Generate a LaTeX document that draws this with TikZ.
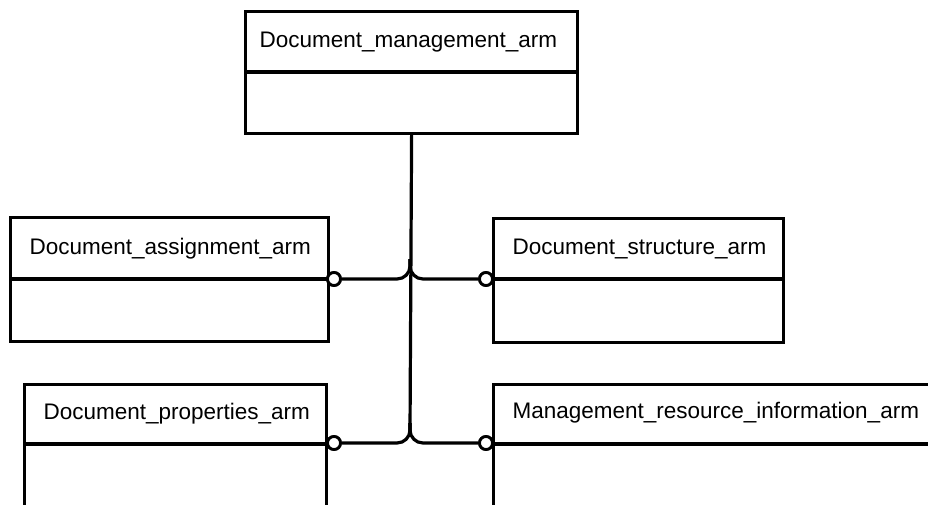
\documentclass[tikz,border=0pt]{standalone}
\usepackage{fontspec}
\setmainfont{Liberation Sans}
\begin{document}
\begin{tikzpicture}[x=1pt,y=-1pt,
  line width=3.2pt,
  box/.style={draw, rectangle, inner sep=0pt, anchor=north west},
  lbl/.style={anchor=base west, inner sep=0pt, font=\fontsize{22.5}{27}\selectfont},
  circ/.style={draw, circle, fill=white, inner sep=0pt, minimum size=13pt, line width=2.8pt},
  conn/.style={rounded corners=13pt}]
\useasboundingbox (0,0) rectangle (928,504);
\clip (0,0) rectangle (928,504);
% boxes
\node[box, minimum width=332pt, minimum height=122pt] (top) at (244,10) {};
\node[box, minimum width=318pt, minimum height=124pt] (assign) at (9,216) {};
\node[box, minimum width=290pt, minimum height=124pt] (struct) at (492,217) {};
\node[box, minimum width=302pt, minimum height=140pt] (props) at (23,383) {};
\node[box, minimum width=460pt, minimum height=140pt] (mgmt) at (492,383) {};
% dividers
\draw (top.west |- 0,72) -- (top.east |- 0,72);
\draw (assign.west |- 0,279) -- (assign.east |- 0,279);
\draw (struct.west |- 0,279) -- (struct.east |- 0,279);
\draw (props.west |- 0,444) -- (props.east |- 0,444);
\draw (mgmt.west |- 0,444) -- (mgmt.east |- 0,444);
% labels
\node[lbl] (ltop) at (258,47) {Document\_management\_arm};
\node[lbl] (lassign) at (28,254) {Document\_assignment\_arm};
\node[lbl] (lstruct) at (511,254) {Document\_structure\_arm};
\node[lbl] (lprops) at (42,419) {Document\_properties\_arm};
\node[lbl] (lmgmt) at (511,418) {Management\_resource\_information\_arm};
% connector ends
\node[circ] (c1) at (334,279) {};
\node[circ] (c2) at (486,279) {};
\node[circ] (c3) at (334,443) {};
\node[circ] (c4) at (486,443) {};
\coordinate (j1) at (410,279);
\coordinate (j2) at (410,443);
% trunk
\draw (top.south) -- ([yshift=12pt]j2);
% branches
\draw[conn] (c1.east) -- (j1) -- ([yshift=20pt]j1);
\draw[conn] ([yshift=20pt]j1) -- (j1) -- (c2.west);
\draw[conn] (c3.east) -- (j2) -- ([yshift=20pt]j2);
\draw[conn] ([yshift=20pt]j2) -- (j2) -- (c4.west);
% redraw circles on top
\node[circ] at (c1) {};
\node[circ] at (c2) {};
\node[circ] at (c3) {};
\node[circ] at (c4) {};
\end{tikzpicture}
\end{document}
